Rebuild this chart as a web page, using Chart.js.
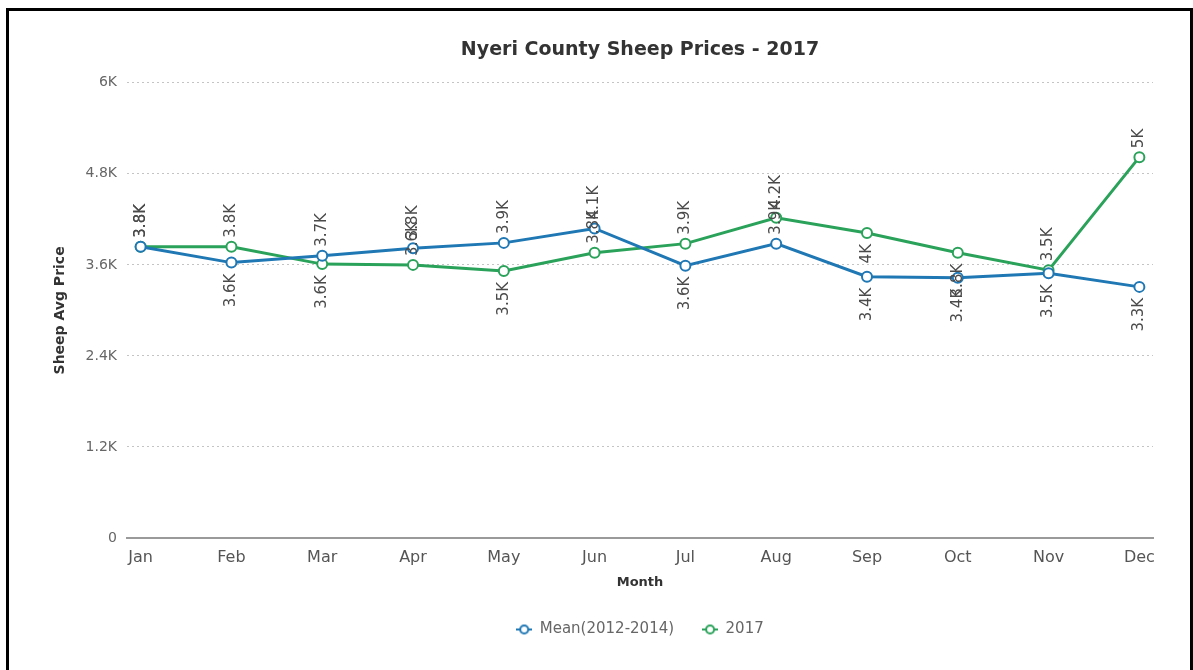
<!DOCTYPE html>
<html>
<head>
<meta charset="utf-8">
<title>Nyeri County Sheep Prices - 2017</title>
<script src="https://cdn.jsdelivr.net/npm/chart.js@4.4.1/dist/chart.umd.min.js"></script>
<style>
  html, body { margin: 0; padding: 0; background: #fff; overflow: hidden; }
  #frame { position: absolute; left: 6px; top: 8px; width: 1181px; height: 700px; border: 3px solid #000; }
  #wrap { position: absolute; left: 0; top: 0; width: 1193px; height: 670px; overflow: hidden; }
</style>
</head>
<body>
<div id="frame"></div>
<div id="wrap"><canvas id="chart" width="1280" height="670"></canvas></div>
<script>
const months = ['Jan', 'Feb', 'Mar', 'Apr', 'May', 'Jun', 'Jul', 'Aug', 'Sep', 'Oct', 'Nov', 'Dec'];
const meanPrices = [3840, 3630, 3720, 3820, 3890, 4080, 3590, 3880, 3445, 3430, 3490, 3310];
const prices2017 = [3840, 3840, 3610, 3600, 3520, 3760, 3880, 4220, 4020, 3760, 3530, 5020];
const yTicks = [0, 1200, 2400, 3600, 4800, 6000];
const seriesNames = ['Mean(2012-2014)', '2017'];

// which side of the point each value label sits on (1 = above, -1 = below)
const meanLabelSide = [1, -1, 1, 1, 1, 1, -1, 1, -1, -1, -1, -1];
const side2017 = [1, 1, -1, 1, -1, 1, 1, 1, -1, -1, 1, 1];

const BLUE = '#1f77b4';
const GREEN = '#2aa25a';
const FONT = '"DejaVu Sans", "Liberation Sans", sans-serif';

function fmtK(v) {
  if (v === 0) return '0';
  return (Math.round(v / 100) / 10) + 'K';
}

// little "-o-" marker for the legend
function legendMarker(color) {
  const c = document.createElement('canvas');
  c.width = 16; c.height = 12;
  const g = c.getContext('2d');
  g.strokeStyle = color;
  g.lineWidth = 2;
  g.beginPath(); g.moveTo(0, 6); g.lineTo(16, 6); g.stroke();
  g.fillStyle = '#fff';
  g.beginPath(); g.arc(8, 6, 4, 0, Math.PI * 2); g.fill(); g.stroke();
  return c;
}

const valueLabels = {
  id: 'valueLabels',
  afterDatasetsDraw(chart) {
    const ctx = chart.ctx;
    const sides = [meanLabelSide, side2017];
    ctx.save();
    ctx.font = '15px ' + FONT;
    ctx.fillStyle = '#4a4a4a';
    ctx.textBaseline = 'middle';
    chart.data.datasets.forEach((ds, di) => {
      const meta = chart.getDatasetMeta(di);
      meta.data.forEach((pt, i) => {
        const up = sides[di][i] > 0;
        ctx.save();
        ctx.translate(pt.x, pt.y + (up ? -9 : 11));
        ctx.rotate(-Math.PI / 2);
        ctx.textAlign = up ? 'left' : 'right';
        ctx.fillText(fmtK(ds.data[i].y), 0, 0);
        ctx.restore();
      });
    });
    ctx.restore();
  }
};

const ctx = document.getElementById('chart').getContext('2d');
new Chart(ctx, {
  type: 'line',
  data: {
    datasets: [
      {
        label: seriesNames[0],
        data: meanPrices.map((v, i) => ({ x: i, y: v })),
        borderColor: BLUE,
        backgroundColor: '#fff',
        borderWidth: 3,
        pointRadius: 5,
        pointBorderWidth: 2,
        pointBackgroundColor: '#fff',
        pointBorderColor: BLUE,
        pointStyle: 'circle',
        tension: 0
      },
      {
        label: seriesNames[1],
        data: prices2017.map((v, i) => ({ x: i, y: v })),
        borderColor: GREEN,
        backgroundColor: '#fff',
        borderWidth: 3,
        pointRadius: 5,
        pointBorderWidth: 2,
        pointBackgroundColor: '#fff',
        pointBorderColor: GREEN,
        pointStyle: 'circle',
        tension: 0
      }
    ]
  },
  options: {
    responsive: false,
    animation: false,
    layout: { padding: { left: 40, right: 40, top: 0, bottom: 23 } },
    plugins: {
      tooltip: { enabled: false },
      title: {
        display: true,
        text: 'Nyeri County Sheep Prices - 2017',
        color: '#333',
        font: { family: FONT, size: 19, weight: 'bold' },
        padding: { top: 39, bottom: 21 }
      },
      legend: {
        position: 'bottom',
        labels: {
          usePointStyle: true,
          pointStyleWidth: 16,
          padding: 28,
          color: '#666',
          font: { family: FONT, size: 15 },
          generateLabels(chart) {
            return chart.data.datasets.map((ds, i) => ({
              text: ds.label,
              datasetIndex: i,
              pointStyle: legendMarker(ds.borderColor),
              fontColor: '#666',
              hidden: false,
              lineWidth: 0,
              strokeStyle: 'transparent',
              fillStyle: 'transparent'
            }));
          }
        }
      }
    },
    scales: {
      x: {
        type: 'linear',
        min: -0.15,
        max: 11.15,
        afterBuildTicks(scale) {
          scale.ticks = months.map((m, i) => ({ value: i }));
        },
        afterFit(scale) { scale.height = 56; },
        grid: { display: false, drawTicks: false },
        border: { display: true, color: '#9a9a9a', width: 2 },
        ticks: {
          autoSkip: false,
          maxRotation: 0,
          padding: 10,
          color: '#555',
          font: { family: FONT, size: 16 },
          callback: v => months[v]
        },
        title: {
          display: true,
          text: 'Month',
          color: '#333',
          font: { family: FONT, size: 13, weight: 'bold' },
          padding: { top: 6 }
        }
      },
      y: {
        min: 0,
        max: 6000,
        afterBuildTicks(scale) {
          scale.ticks = yTicks.map(v => ({ value: v }));
        },
        afterFit(scale) { scale.width = 87; },
        grid: {
          drawTicks: false,
          color: c => c.tick && c.tick.value === 0 ? 'rgba(0,0,0,0)' : '#c4c4c4',
          lineWidth: 1
        },
        border: { display: false, dash: [2, 3] },
        ticks: {
          padding: 10,
          color: '#666',
          font: { family: FONT, size: 14 },
          callback: v => fmtK(v)
        },
        title: {
          display: true,
          text: 'Sheep Avg Price',
          color: '#333',
          font: { family: FONT, size: 14, weight: 'bold' },
          padding: { top: 12 }
        }
      },
      // empty right-hand axis, only reserves space so the plot sits like the original
      yRight: {
        position: 'right',
        min: 0,
        max: 6000,
        afterFit(scale) { scale.width = 87; },
        grid: { display: false, drawTicks: false },
        border: { display: false },
        ticks: { display: false }
      }
    }
  },
  plugins: [valueLabels]
});
</script>
</body>
</html>
